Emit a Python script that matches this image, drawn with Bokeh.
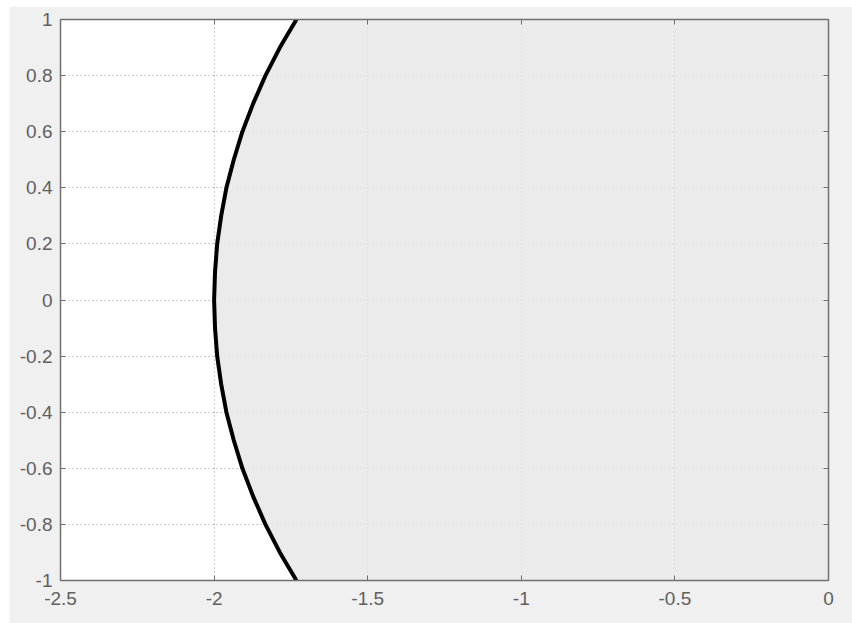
from bokeh.plotting import figure
from bokeh.models import FixedTicker, LinearAxis, Range1d
from bokeh.embed import file_html
from bokeh.resources import INLINE

# boundary curve (y, x)
curve_y = [-1.0, -0.9, -0.8, -0.7, -0.6, -0.5, -0.4, -0.3, -0.2, -0.1, 0.0,
           0.1, 0.2, 0.3, 0.4, 0.5, 0.6, 0.7, 0.8, 0.9, 1.0]
curve_x = [-1.732, -1.786, -1.833, -1.873, -1.908, -1.936, -1.960, -1.977, -1.990, -1.997, -2.000,
           -1.997, -1.990, -1.977, -1.960, -1.936, -1.908, -1.873, -1.833, -1.786, -1.732]
# shaded region closes on the right edge
region_right_x = 0.0

x_ticks = [-2.5, -2.0, -1.5, -1.0, -0.5, 0.0]
x_labels = ["-2.5", "-2", "-1.5", "-1", "-0.5", "0"]
y_ticks = [-1.0, -0.8, -0.6, -0.4, -0.2, 0.0, 0.2, 0.4, 0.6, 0.8, 1.0]
y_labels = ["-1", "-0.8", "-0.6", "-0.4", "-0.2", "0", "0.2", "0.4", "0.6", "0.8", "1"]

p = figure(width=843, height=617, output_backend="svg", toolbar_location=None,
           x_range=Range1d(-2.5, 0), y_range=Range1d(-1, 1),
           min_border_left=51, min_border_right=24, min_border_top=13, min_border_bottom=43)
p.margin = (6, 0, 0, 9)
p.border_fill_color = "#f0f0f0"
p.background_fill_color = "white"
p.outline_line_color = "#707070"
p.outline_line_width = 1

patch_x = curve_x + [region_right_x, region_right_x]
patch_y = curve_y + [curve_y[-1], curve_y[0]]
p.patch(patch_x, patch_y, fill_color="#e6e6e6", fill_alpha=0.8, line_color=None)
p.line(curve_x, curve_y, line_color="black", line_width=4)


def style(ax, ticks, labels, show, standoff=8):
    ax.ticker = FixedTicker(ticks=ticks)
    if show:
        ax.major_label_overrides = {t: l for t, l in zip(ticks, labels)}
    else:
        ax.major_label_overrides = {t: "" for t in ticks}
    ax.axis_line_color = "#707070"
    ax.axis_line_width = 1.5
    ax.major_tick_line_color = "#707070"
    ax.major_tick_in = 5
    ax.major_tick_out = 0
    ax.minor_tick_line_color = None
    ax.major_label_text_color = "#606060"
    ax.major_label_text_font = "Liberation Sans"
    ax.major_label_text_font_size = "19px" if show else "1px"
    ax.major_label_standoff = standoff if show else 0

style(p.xaxis[0], x_ticks, x_labels, True, standoff=11)
style(p.yaxis[0], y_ticks, y_labels, True, standoff=8)
top = LinearAxis()
right = LinearAxis()
p.add_layout(top, "above")
p.add_layout(right, "right")
style(top, x_ticks, x_labels, False)
style(right, y_ticks, y_labels, False)

for g in (p.xgrid[0], p.ygrid[0]):
    g.grid_line_color = "#9a9a9a"
    g.grid_line_dash = "1 3"
    g.grid_line_width = 1
p.xgrid[0].ticker = FixedTicker(ticks=x_ticks)
p.ygrid[0].ticker = FixedTicker(ticks=y_ticks)

open("out.html", "w").write(file_html(p, INLINE))
